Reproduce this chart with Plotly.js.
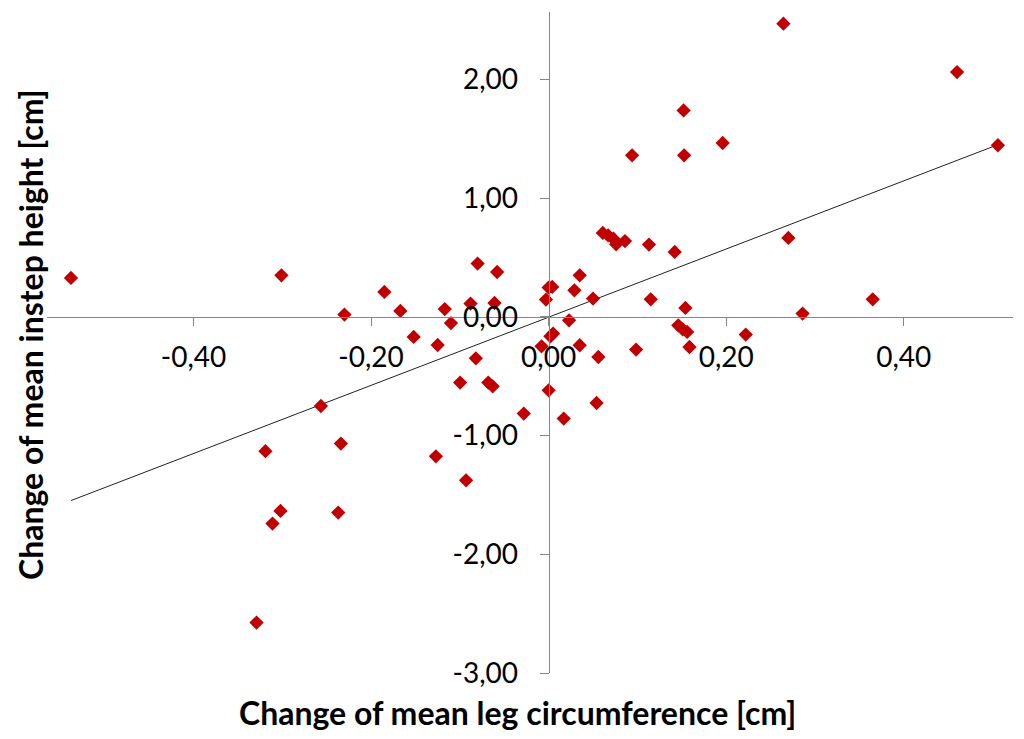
<!DOCTYPE html>
<html>
<head>
<meta charset="utf-8">
<script src="https://cdn.plot.ly/plotly-3.0.1.min.js"></script>
<style>html,body{margin:0;padding:0;background:#fff;}#chart{width:1024px;height:739px;}</style>
</head>
<body>
<div id="chart"></div>
<script>
// Change of mean leg circumference [cm]
const legChange = [
  -0.538, -0.301, -0.230, -0.2565, -0.319, -0.234, -0.302, -0.311, -0.237, -0.329,
  -0.185, -0.167, -0.152, -0.117, -0.110, -0.125, -0.080, -0.058, -0.088, -0.061,
  -0.082, -0.0997, -0.068, -0.063, -0.028, -0.127, -0.093,
  0.000, 0.004, -0.003, -0.008, 0.002, 0.005, 0.000, 0.017, 0.023, 0.029,
  0.035, 0.050, 0.035, 0.056, 0.054,
  0.061, 0.067, 0.073, 0.076, 0.086, 0.113, 0.142, 0.115, 0.0985,
  0.146, 0.151, 0.156, 0.1586, 0.154,
  0.094, 0.1526, 0.152, 0.196, 0.2644, 0.460, 0.506, 0.270, 0.365, 0.286, 0.222
];
// Change of mean instep height [cm]
const instepChange = [
  0.329, 0.351, 0.020, -0.750, -1.131, -1.067, -1.634, -1.741, -1.648, -2.575,
  0.211, 0.051, -0.168, 0.067, -0.051, -0.236, 0.450, 0.379, 0.113, 0.118,
  -0.348, -0.553, -0.553, -0.584, -0.814, -1.174, -1.376,
  0.248, 0.253, 0.147, -0.247, -0.163, -0.140, -0.618, -0.856, -0.028, 0.225,
  0.351, 0.155, -0.238, -0.337, -0.725,
  0.708, 0.688, 0.660, 0.612, 0.640, 0.610, 0.548, 0.149, -0.275,
  -0.070, -0.104, -0.126, -0.253, 0.076,
  1.362, 1.362, 1.741, 1.466, 2.472, 2.064, 1.447, 0.666, 0.149, 0.029, -0.148
];
const xTickVals = [-0.4, -0.2, 0, 0.2, 0.4];
const xTickLabels = ['-0,40', '-0,20', '0,00', '0,20', '0,40'];
const yTickVals = [-3, -2, -1, 0, 1, 2];
const yTickLabels = ['-3,00', '-2,00', '-1,00', '0,00', '1,00', '2,00'];
const xRange = [-0.565, 0.523];
const yRange = [-3.0, 2.57];
const xTitle = 'Change of mean leg circumference [cm]';
const yTitle = 'Change of mean instep height [cm]';

// least-squares linear trend from the data
const n = legChange.length;
let sx = 0, sy = 0, sxx = 0, sxy = 0;
for (let i = 0; i < n; i++) {
  sx += legChange[i]; sy += instepChange[i];
  sxx += legChange[i] * legChange[i]; sxy += legChange[i] * instepChange[i];
}
const slope = (n * sxy - sx * sy) / (n * sxx - sx * sx);
const intercept = (sy - slope * sx) / n;
const xMin = Math.min(...legChange), xMax = Math.max(...legChange);
const trendX = [xMin, xMax];
const trendY = trendX.map(v => intercept + slope * v);

const axisGray = '#868686';
const font = 'Lato, "Open Sans", sans-serif';

const traces = [
  {
    x: trendX, y: trendY, type: 'scatter', mode: 'lines',
    line: {color: '#222222', width: 1}, hoverinfo: 'skip', showlegend: false
  },
  {
    x: legChange, y: instepChange, type: 'scatter', mode: 'markers',
    marker: {symbol: 'diamond', size: 11, color: '#C00000'},
    showlegend: false
  }
];

const layout = {
  width: 1024, height: 739,
  margin: {l: 47, r: 11, t: 12, b: 66},
  paper_bgcolor: '#ffffff', plot_bgcolor: '#ffffff',
  showlegend: false,
  font: {family: font, color: '#000000'},
  xaxis: {
    range: xRange, showgrid: false, zeroline: false,
    anchor: 'free', position: (0 - yRange[0]) / (yRange[1] - yRange[0]),
    showline: true, linecolor: axisGray, linewidth: 1,
    ticks: 'outside', ticklen: 8, tickcolor: axisGray, tickwidth: 1,
    tickmode: 'array', tickvals: xTickVals, ticktext: xTickLabels,
    tickfont: {family: font, size: 28, color: '#000000'},
    ticklabelstandoff: 7
  },
  yaxis: {
    range: yRange, showgrid: false, zeroline: false,
    anchor: 'free', position: (0 - xRange[0]) / (xRange[1] - xRange[0]),
    showline: true, linecolor: axisGray, linewidth: 1,
    ticks: 'outside', ticklen: 9, tickcolor: axisGray, tickwidth: 1,
    tickmode: 'array', tickvals: yTickVals, ticktext: yTickLabels,
    tickfont: {family: font, size: 28, color: '#000000'},
    ticklabelstandoff: 16
  },
  annotations: [
    {
      text: '<b>' + xTitle + '</b>', xref: 'paper', yref: 'paper',
      x: (517 - 47) / (1024 - 47 - 11), y: 0, yshift: -39,
      xanchor: 'center', yanchor: 'middle', showarrow: false,
      font: {family: font, size: 32, color: '#000000'}
    },
    {
      text: '<b>' + yTitle + '</b>', xref: 'paper', yref: 'paper',
      x: 0, xshift: -17, y: (673 - 335) / (673 - 12), textangle: -90,
      xanchor: 'center', yanchor: 'middle', showarrow: false,
      font: {family: font, size: 32, color: '#000000'}
    }
  ]
};

Plotly.newPlot('chart', traces, layout, {displayModeBar: false, staticPlot: true});
</script>
</body>
</html>
